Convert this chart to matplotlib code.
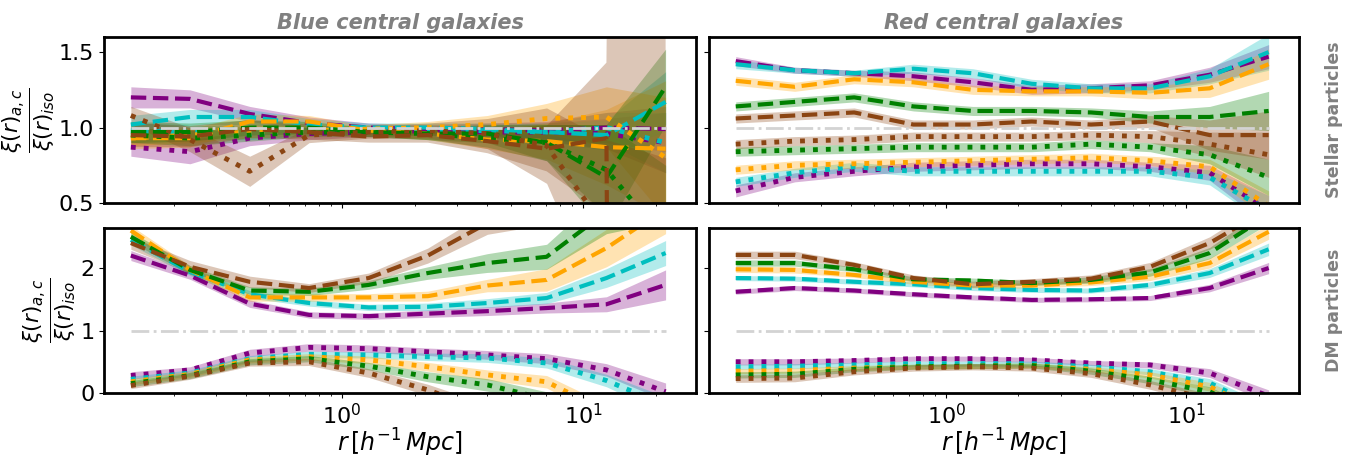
import numpy as np
import matplotlib.pyplot as plt

# radial bins [h^-1 Mpc]
r = [0.133, 0.234, 0.414, 0.730, 1.29, 2.27, 4.01, 7.06, 12.5, 22.0]

colors = ['purple', 'c', 'orange', 'green', 'saddlebrown']

# ---- Stellar particles, blue centrals (dashed = a, dotted = c)
stel_blue_a = [
    [1.20, 1.19, 1.09, 1.03, 1.00, 0.99, 0.99, 0.98, 1.00, 0.99],
    [1.02, 1.07, 1.07, 1.02, 1.00, 1.00, 0.99, 0.97, 0.95, 1.17],
    [0.93, 0.93, 1.04, 1.04, 0.98, 0.96, 0.92, 0.91, 0.87, 0.86],
    [0.97, 0.97, 1.00, 1.00, 0.97, 0.96, 0.96, 0.90, 0.67, 1.27],
    [0.95, 0.94, 0.99, 0.97, 0.94, 0.95, 0.91, 0.86, 0.93, -60.0],
]
stel_blue_a_err = [
    [0.07, 0.06, 0.05, 0.04, 0.03, 0.03, 0.04, 0.06, 0.10, 0.15],
    [0.06, 0.05, 0.05, 0.04, 0.03, 0.03, 0.04, 0.06, 0.10, 0.20],
    [0.07, 0.06, 0.05, 0.04, 0.03, 0.04, 0.06, 0.12, 0.25, 0.45],
    [0.07, 0.06, 0.05, 0.04, 0.03, 0.04, 0.06, 0.12, 0.35, 0.25],
    [0.08, 0.07, 0.06, 0.05, 0.04, 0.05, 0.08, 0.15, 0.50, 100.0],
]
stel_blue_c = [
    [0.87, 0.84, 0.93, 0.96, 0.97, 0.98, 0.97, 0.97, 0.96, 0.90],
    [0.98, 0.97, 0.96, 0.98, 0.99, 0.98, 0.98, 0.97, 1.00, 0.90],
    [0.93, 0.95, 0.97, 0.98, 0.99, 1.00, 1.02, 1.06, 1.07, 0.80],
    [0.95, 0.93, 0.95, 0.97, 0.97, 0.96, 0.93, 0.90, 0.72, 0.25],
    [1.08, 0.92, 0.71, 0.95, 0.97, 0.98, 0.96, 0.88, 0.32, 0.00],
]
stel_blue_c_err = [
    [0.06, 0.08, 0.05, 0.04, 0.03, 0.03, 0.04, 0.06, 0.10, 0.20],
    [0.05, 0.05, 0.04, 0.03, 0.03, 0.03, 0.04, 0.06, 0.10, 0.20],
    [0.05, 0.05, 0.04, 0.03, 0.03, 0.04, 0.06, 0.10, 0.20, 0.40],
    [0.05, 0.05, 0.04, 0.03, 0.03, 0.04, 0.06, 0.12, 0.30, 0.50],
    [0.06, 0.08, 0.10, 0.05, 0.04, 0.05, 0.10, 0.25, 0.60, 0.80],
]

# ---- Stellar particles, red centrals
stel_red_a = [
    [1.44, 1.38, 1.36, 1.34, 1.30, 1.25, 1.26, 1.28, 1.35, 1.47],
    [1.42, 1.38, 1.36, 1.39, 1.36, 1.29, 1.26, 1.26, 1.34, 1.50],
    [1.31, 1.27, 1.32, 1.30, 1.25, 1.24, 1.24, 1.23, 1.26, 1.42],
    [1.14, 1.17, 1.20, 1.14, 1.11, 1.11, 1.10, 1.07, 1.07, 1.11],
    [1.06, 1.08, 1.10, 1.02, 1.02, 1.04, 1.02, 1.04, 0.95, 0.95],
]
stel_red_a_err = [
    [0.03, 0.02, 0.02, 0.03, 0.03, 0.03, 0.03, 0.03, 0.05, 0.08],
    [0.03, 0.02, 0.02, 0.03, 0.03, 0.03, 0.03, 0.03, 0.05, 0.12],
    [0.03, 0.03, 0.03, 0.03, 0.03, 0.03, 0.03, 0.04, 0.06, 0.10],
    [0.03, 0.03, 0.03, 0.03, 0.03, 0.03, 0.03, 0.04, 0.07, 0.13],
    [0.03, 0.03, 0.03, 0.03, 0.03, 0.03, 0.03, 0.04, 0.10, 0.16],
]
stel_red_c = [
    [0.58, 0.67, 0.71, 0.74, 0.75, 0.76, 0.76, 0.74, 0.70, 0.45],
    [0.64, 0.70, 0.74, 0.71, 0.71, 0.71, 0.71, 0.71, 0.67, 0.45],
    [0.72, 0.75, 0.76, 0.77, 0.78, 0.79, 0.80, 0.78, 0.74, 0.48],
    [0.84, 0.85, 0.86, 0.87, 0.87, 0.87, 0.89, 0.87, 0.82, 0.67],
    [0.89, 0.91, 0.92, 0.94, 0.94, 0.94, 0.95, 0.94, 0.89, 0.82],
]
stel_red_c_err = [
    [0.04, 0.03, 0.03, 0.03, 0.03, 0.03, 0.03, 0.03, 0.05, 0.10],
    [0.03, 0.03, 0.03, 0.03, 0.03, 0.03, 0.03, 0.03, 0.05, 0.10],
    [0.03, 0.03, 0.03, 0.03, 0.03, 0.03, 0.03, 0.03, 0.05, 0.10],
    [0.03, 0.03, 0.03, 0.03, 0.03, 0.03, 0.03, 0.03, 0.06, 0.12],
    [0.03, 0.03, 0.03, 0.03, 0.03, 0.03, 0.03, 0.04, 0.08, 0.15],
]

# ---- DM particles, blue centrals
dm_blue_a = [
    [2.20, 1.88, 1.43, 1.25, 1.23, 1.27, 1.31, 1.36, 1.42, 1.73],
    [2.45, 1.94, 1.58, 1.44, 1.37, 1.38, 1.44, 1.52, 1.84, 2.24],
    [2.60, 1.97, 1.53, 1.53, 1.53, 1.55, 1.72, 1.81, 2.32, 2.95],
    [2.50, 1.97, 1.64, 1.62, 1.73, 1.92, 2.08, 2.18, 2.90, 3.20],
    [2.40, 2.02, 1.78, 1.68, 1.84, 2.20, 2.72, 2.95, 3.30, 3.50],
]
dm_blue_a_err = [
    [0.08, 0.06, 0.06, 0.05, 0.05, 0.06, 0.07, 0.08, 0.12, 0.24],
    [0.08, 0.06, 0.06, 0.05, 0.05, 0.06, 0.07, 0.09, 0.15, 0.20],
    [0.08, 0.07, 0.06, 0.06, 0.06, 0.08, 0.10, 0.18, 0.30, 0.40],
    [0.08, 0.07, 0.06, 0.06, 0.07, 0.10, 0.15, 0.20, 0.35, 0.45],
    [0.10, 0.10, 0.09, 0.07, 0.08, 0.12, 0.18, 0.25, 0.40, 0.50],
]
dm_blue_c = [
    [0.28, 0.37, 0.64, 0.73, 0.71, 0.66, 0.61, 0.55, 0.37, 0.02],
    [0.22, 0.32, 0.55, 0.62, 0.61, 0.58, 0.56, 0.48, 0.20, -0.20],
    [0.18, 0.30, 0.53, 0.58, 0.53, 0.42, 0.29, 0.18, -0.30, -0.60],
    [0.15, 0.28, 0.50, 0.55, 0.43, 0.26, 0.13, -0.10, -0.40, -0.70],
    [0.12, 0.27, 0.48, 0.50, 0.32, 0.05, -0.30, -0.60, -0.90, -1.10],
]
dm_blue_c_err = [
    [0.06, 0.05, 0.06, 0.06, 0.06, 0.06, 0.07, 0.08, 0.10, 0.14],
    [0.05, 0.05, 0.05, 0.05, 0.05, 0.06, 0.07, 0.08, 0.10, 0.14],
    [0.05, 0.05, 0.05, 0.05, 0.06, 0.07, 0.08, 0.10, 0.12, 0.15],
    [0.05, 0.05, 0.05, 0.05, 0.06, 0.08, 0.10, 0.12, 0.15, 0.18],
    [0.05, 0.05, 0.05, 0.06, 0.07, 0.09, 0.12, 0.15, 0.18, 0.20],
]

# ---- DM particles, red centrals
dm_red_a = [
    [1.62, 1.68, 1.64, 1.58, 1.53, 1.49, 1.50, 1.52, 1.68, 2.00],
    [1.84, 1.83, 1.78, 1.74, 1.68, 1.65, 1.64, 1.73, 1.92, 2.30],
    [1.98, 1.97, 1.89, 1.78, 1.72, 1.72, 1.77, 1.86, 2.08, 2.58],
    [2.08, 2.08, 1.98, 1.82, 1.80, 1.76, 1.81, 1.93, 2.24, 2.85],
    [2.21, 2.21, 2.05, 1.84, 1.74, 1.78, 1.83, 2.02, 2.40, 2.95],
]
dm_red_a_err = [
    [0.04, 0.04, 0.04, 0.04, 0.04, 0.04, 0.04, 0.04, 0.06, 0.09],
    [0.04, 0.04, 0.04, 0.04, 0.04, 0.04, 0.04, 0.05, 0.07, 0.10],
    [0.05, 0.05, 0.04, 0.04, 0.04, 0.04, 0.05, 0.06, 0.08, 0.12],
    [0.05, 0.05, 0.04, 0.04, 0.04, 0.04, 0.05, 0.06, 0.09, 0.14],
    [0.06, 0.06, 0.05, 0.05, 0.05, 0.05, 0.06, 0.07, 0.10, 0.15],
]
dm_red_c = [
    [0.50, 0.50, 0.52, 0.55, 0.55, 0.53, 0.48, 0.45, 0.32, -0.05],
    [0.42, 0.43, 0.45, 0.47, 0.47, 0.47, 0.42, 0.34, 0.16, -0.30],
    [0.35, 0.36, 0.40, 0.42, 0.43, 0.44, 0.38, 0.29, 0.10, -0.35],
    [0.29, 0.30, 0.38, 0.42, 0.43, 0.44, 0.35, 0.21, 0.02, -0.45],
    [0.23, 0.24, 0.34, 0.40, 0.42, 0.40, 0.31, 0.13, -0.10, -0.55],
]
dm_red_c_err = [
    [0.05, 0.05, 0.04, 0.04, 0.04, 0.04, 0.04, 0.05, 0.07, 0.10],
    [0.04, 0.04, 0.04, 0.04, 0.04, 0.04, 0.04, 0.05, 0.07, 0.10],
    [0.04, 0.04, 0.04, 0.04, 0.04, 0.04, 0.04, 0.05, 0.07, 0.10],
    [0.05, 0.05, 0.04, 0.04, 0.04, 0.04, 0.05, 0.06, 0.08, 0.10],
    [0.06, 0.06, 0.05, 0.05, 0.05, 0.05, 0.06, 0.07, 0.09, 0.12],
]

col_titles = ['Blue central galaxies', 'Red central galaxies']
row_labels = ['Stellar particles', 'DM particles']
ylab = r'$\frac{\xi(r)_{a,c}}{\xi(r)_{iso}}$'
xlab = r'$r\,[h^{-1}\,Mpc]$'

fig = plt.figure(figsize=(13.54, 4.57), dpi=100)
lefts = [0.0768, 0.5236]
widths = [0.4372, 0.4357]
bottoms = [0.5558, 0.140]
heights = [0.3632, 0.361]

panels = [
    [(stel_blue_a, stel_blue_a_err, stel_blue_c, stel_blue_c_err),
     (stel_red_a, stel_red_a_err, stel_red_c, stel_red_c_err)],
    [(dm_blue_a, dm_blue_a_err, dm_blue_c, dm_blue_c_err),
     (dm_red_a, dm_red_a_err, dm_red_c, dm_red_c_err)],
]
ylims = [(0.5, 1.6), (0.0, 2.64)]
yticks = [[0.5, 1.0, 1.5], [0, 1, 2]]

x = np.array(r)
for i in range(2):
    for j in range(2):
        ax = fig.add_axes([lefts[j], bottoms[i], widths[j], heights[i]])
        va, ea, vc, ec = panels[i][j]
        for k, col in enumerate(colors):
            ya = np.array(va[k])
            yea = np.array(ea[k])
            yc = np.array(vc[k])
            yec = np.array(ec[k])
            ax.fill_between(x, ya - yea, ya + yea, color=col, alpha=0.3, lw=0)
            ax.plot(x, ya, color=col, ls='--', lw=3)
            ax.fill_between(x, yc - yec, yc + yec, color=col, alpha=0.3, lw=0)
            ax.plot(x, yc, color=col, ls=':', lw=3.5)
        ax.plot([x[0], x[-1]], [1, 1], color='lightgray', ls='-.', lw=2, zorder=5)
        ax.set_xscale('log')
        ax.set_xlim(0.1029, 29.4)
        ax.set_ylim(*ylims[i])
        ax.set_yticks(yticks[i])
        ax.tick_params(labelsize=16)
        for s in ax.spines.values():
            s.set_linewidth(2)
        if j == 1:
            ax.set_yticklabels([])
            ax.text(1.06, 0.5, row_labels[i], transform=ax.transAxes,
                    rotation=90, ha='center', va='center', fontsize=12.5,
                    fontweight='bold', color='gray')
        else:
            ax.set_ylabel(ylab, fontsize=22, labelpad=2)
        if i == 0:
            ax.set_xticklabels([], minor=True)
            ax.set_xticklabels([])
            ax.set_title(col_titles[j], fontsize=15, fontweight='bold',
                         fontstyle='italic', color='gray', pad=6)
        else:
            ax.set_xlabel(xlab, fontsize=17, labelpad=-1)

plt.savefig('out.png', dpi=100)
